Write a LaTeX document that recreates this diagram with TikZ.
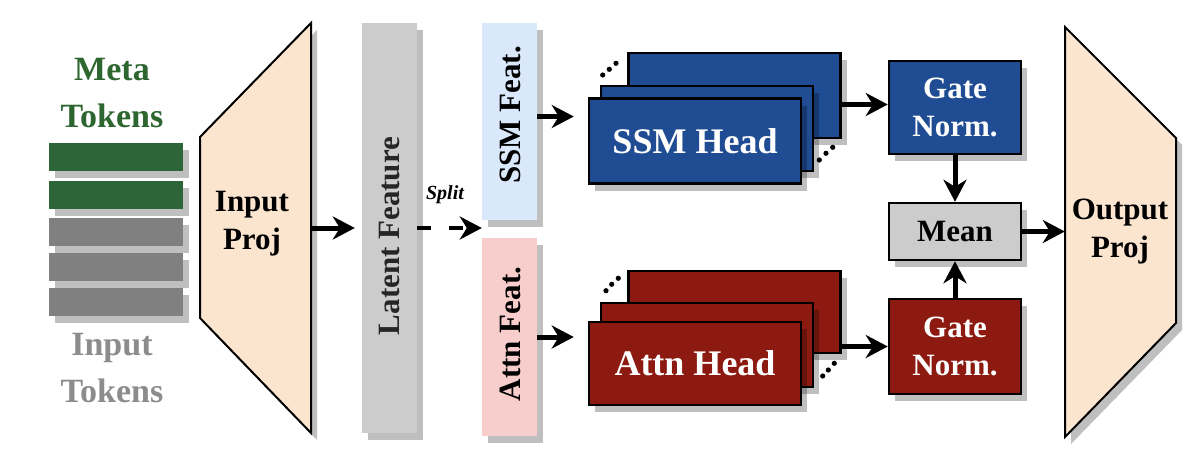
\documentclass[tikz,border=0pt]{standalone}
\usepackage{fontspec}
\setmainfont{Liberation Serif}
\usetikzlibrary{arrows.meta,shadows,calc}
\definecolor{peach}{HTML}{FCE5CF}
\definecolor{latgray}{HTML}{CCCCCC}
\definecolor{ssmfeat}{HTML}{DAE8FC}
\definecolor{attfeat}{HTML}{F8CECC}
\definecolor{headblue}{HTML}{1F4C93}
\definecolor{headred}{HTML}{8C1A11}
\definecolor{meangray}{HTML}{CCCCCC}
\definecolor{metagreen}{HTML}{2D6438}
\definecolor{metatext}{HTML}{2E6630}
\definecolor{tokgray}{HTML}{808080}
\definecolor{inputtext}{HTML}{8C8C8C}
\newcommand\lblfont{\bfseries\fontsize{31}{38}\selectfont}
\newcommand\tokfont{\bfseries\fontsize{34}{47}\selectfont}
\newcommand\headfont{\bfseries\fontsize{36}{40}\selectfont}
\begin{document}
\begin{tikzpicture}[x=1pt,y=-1pt,
  shad/.style={drop shadow={shadow xshift=6pt,shadow yshift=-7pt,fill=black,opacity=0.25}},
  bar/.style={shad,minimum width=134pt,minimum height=28pt,inner sep=0pt},
  col/.style={shad,minimum width=55pt,inner sep=0pt},
  head/.style={shad,draw=black,line width=2.5pt,minimum width=212pt,minimum height=85pt,inner sep=0pt,text=white,font=\headfont},
  smallbox/.style={shad,draw=black,line width=2.5pt,minimum width=132pt,inner sep=0pt,align=center,font=\lblfont},
  arr/.style={line width=5pt,-{Stealth[length=22pt,width=23pt,inset=7pt]}},
  trap/.style={fill=peach,draw=black,line width=2pt,line join=miter},
  trapshadow/.style={fill=black,opacity=0.25},
  dotty/.style={fill=black}
]
\useasboundingbox (0,0) rectangle (1194,466);

% tokens
\node[bar,fill=metagreen] (m1) at (116,156.5) {};
\node[bar,fill=metagreen] (m2) at (116,194.5) {};
\node[bar,fill=tokgray] (t1) at (116,231.5) {};
\node[bar,fill=tokgray] (t2) at (116,266.5) {};
\node[bar,fill=tokgray] (t3) at (116,301.5) {};
\node[align=center,text=metatext,font=\tokfont] (metalbl) at (112,93) {Meta\\Tokens};
\node[align=center,text=inputtext,font=\tokfont] (inlbl) at (112,368) {Input\\Tokens};

% input projection
\fill[trapshadow] (206,144)--(317,30)--(317,440)--(206,325)--cycle;
\filldraw[trap] (200,137)--(311,23)--(311,433)--(200,318)--cycle;
\node[minimum width=111pt,minimum height=410pt,inner sep=0pt] (inproj) at (255.5,228) {};
\node[align=center,font=\lblfont] (inprojlbl) at (252,224) {Input\\Proj};

% latent feature
\node[col,fill=latgray,minimum height=410pt] (latent) at (389.5,228) {};
\node[rotate=90,font=\lblfont,text=black!85] (latentlbl) at (390,236) {Latent Feature};

% split features
\node[col,fill=ssmfeat,minimum height=197pt] (ssmf) at (509.5,121.5) {};
\node[rotate=90,font=\lblfont] (ssmflbl) at (510,115) {SSM Feat.};
\node[col,fill=attfeat,minimum height=198pt] (attf) at (509.5,337) {};
\node[rotate=90,font=\lblfont] (attflbl) at (510,334) {Attn Feat.};
\node[font=\bfseries\itshape\fontsize{20}{24}\selectfont] (splitlbl) at (445,195) {Split};

% SSM heads
\node[head,fill=headblue] (sback) at (734.5,95.5) {};
\node[head,fill=headblue] (smid) at (707,128.5) {};
\node[head,fill=headblue] (sfront) at (695,141) {SSM Head};
\fill[dotty] (602.7,75) circle (2.6pt) (609.3,69.3) circle (2.6pt) (616,63.3) circle (2.6pt);
\fill[dotty] (819.3,160) circle (2.6pt) (826,153.3) circle (2.6pt) (832.7,147.3) circle (2.6pt);

% Attn heads
\node[head,fill=headred,minimum height=82pt] (aback) at (734.5,312) {};
\node[head,fill=headred,minimum height=84pt] (amid) at (707,345) {};
\node[head,fill=headred,minimum height=83pt] (afront) at (695,363.5) {Attn Head};
\fill[dotty] (606,290.7) circle (2.6pt) (611.7,284.3) circle (2.6pt) (618.3,278.3) circle (2.6pt);
\fill[dotty] (822.7,376) circle (2.6pt) (828.3,370) circle (2.6pt) (834.3,363.3) circle (2.6pt);

% gates and mean
\node[smallbox,fill=headblue,text=white,minimum height=93pt] (sgate) at (955,107.5) {Gate\\Norm.};
\node[smallbox,fill=meangray,minimum height=57pt] (mean) at (955,231.5) {Mean};
\node[smallbox,fill=headred,text=white,minimum height=95pt] (rgate) at (955,346.5) {Gate\\Norm.};

% output projection
\fill[trapshadow] (1071,34)--(1182,145)--(1182,330)--(1071,444)--cycle;
\filldraw[trap] (1065,27)--(1176,138)--(1176,323)--(1065,437)--cycle;
\node[minimum width=111pt,minimum height=410pt,inner sep=0pt] (outproj) at (1120.5,232) {};
\node[align=center,font=\lblfont] (outprojlbl) at (1120,232) {Output\\Proj};

% connectors
\draw[arr,shorten >=7pt] (inproj.east) -- (latent.west);
\draw[arr,line width=4pt,dash pattern=on 14pt off 18pt] (latent.east) -- (latent.east -| ssmf.west);
\draw[arr,shorten >=14pt] ([yshift=5pt]ssmf.east) -- ([yshift=5pt]ssmf.east -| sfront.west);
\draw[arr,shorten >=14pt] (attf.east) -- (attf.east -| afront.west);
\draw[arr] ([yshift=3pt]sgate.west -| sback.east) -- ([yshift=3pt]sgate.west);
\draw[arr] (rgate.west -| aback.east) -- (rgate.west);
\draw[arr] (sgate.south) -- (mean.north);
\draw[arr] (rgate.north) -- (mean.south);
\draw[arr] (mean.east) -- (mean.east -| outproj.west);
\end{tikzpicture}
\end{document}
